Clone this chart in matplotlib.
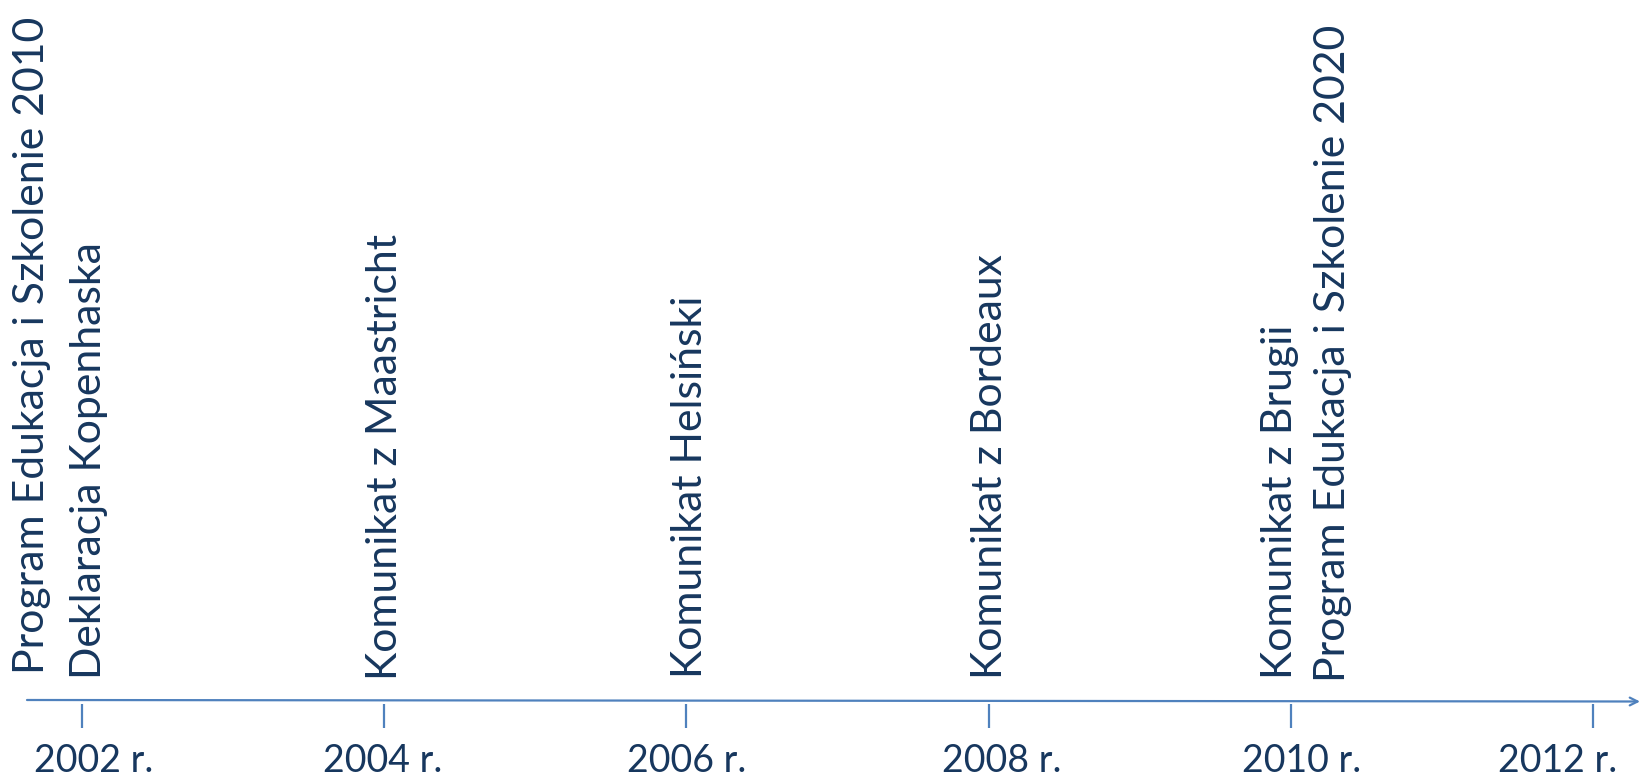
import matplotlib
matplotlib.use("Agg")
import matplotlib.pyplot as plt

# ---- data ----
tick_years = [2002, 2004, 2006, 2008, 2010, 2012]
tick_labels = ["2002 r.", "2004 r.", "2006 r.", "2008 r.", "2010 r.", "2012 r."]
event_years = [2002, 2002, 2004, 2006, 2008, 2010, 2010]
event_labels = [
    "Program Edukacja i Szkolenie 2010",
    "Deklaracja Kopenhaska",
    "Komunikat z Maastricht",
    "Komunikat Helsiński",
    "Komunikat z Bordeaux",
    "Komunikat z Brugii",
    "Program Edukacja i Szkolenie 2020",
]

# ---- layout (pixels) ----
W, H = 1641, 780
DPI = 100
x2002_px, x2012_px = 82, 1593
event_dx = [-38, 19, 13, 16, 13, 1, 54]        # baseline offset from tick, px
event_bottom = [674, 679, 680, 678, 679, 679, 682]
ticklab_dx = [12, -2, 0, 13, 11, -35]
axis_y = 700
TEXT_C = "#17375E"
LINE_C = "#4F81BD"
FONT = "Lato"
FS_EVENT = 30.8
FS_TICK = 27

fig = plt.figure(figsize=(W / DPI, H / DPI), dpi=DPI)
ax = fig.add_axes([0, 0, 1, 1])
ppy = (x2012_px - x2002_px) / (2012 - 2002)
ax.set_xlim(2002 - x2002_px / ppy, 2002 + (W - x2002_px) / ppy)
ax.set_ylim(H, 0)
ax.axis("off")

def px2x(px):
    return 2002 + (px - x2002_px) / ppy

# axis line with arrow
ax.annotate("", xy=(px2x(W - 1), axis_y + 1.5), xytext=(px2x(27), axis_y),
            arrowprops=dict(arrowstyle="->", color=LINE_C, lw=1.6,
                            mutation_scale=14, shrinkA=0, shrinkB=0))

# ticks
ax.vlines(tick_years, axis_y + 4, axis_y + 28, color=LINE_C, lw=1.6)

# tick labels
for yr, lab, dx in zip(tick_years, tick_labels, ticklab_dx):
    ax.text(yr + dx / ppy, 772, lab, ha="center", va="baseline",
            fontsize=FS_TICK, color=TEXT_C, family=FONT)

# event labels
for yr, lab, dx, yb in zip(event_years, event_labels, event_dx, event_bottom):
    ax.text(yr + dx / ppy, yb, lab, rotation=90, rotation_mode="anchor",
            ha="left", va="baseline", fontsize=FS_EVENT, color=TEXT_C, family=FONT)

fig.savefig("out.png", dpi=DPI, facecolor="white")
